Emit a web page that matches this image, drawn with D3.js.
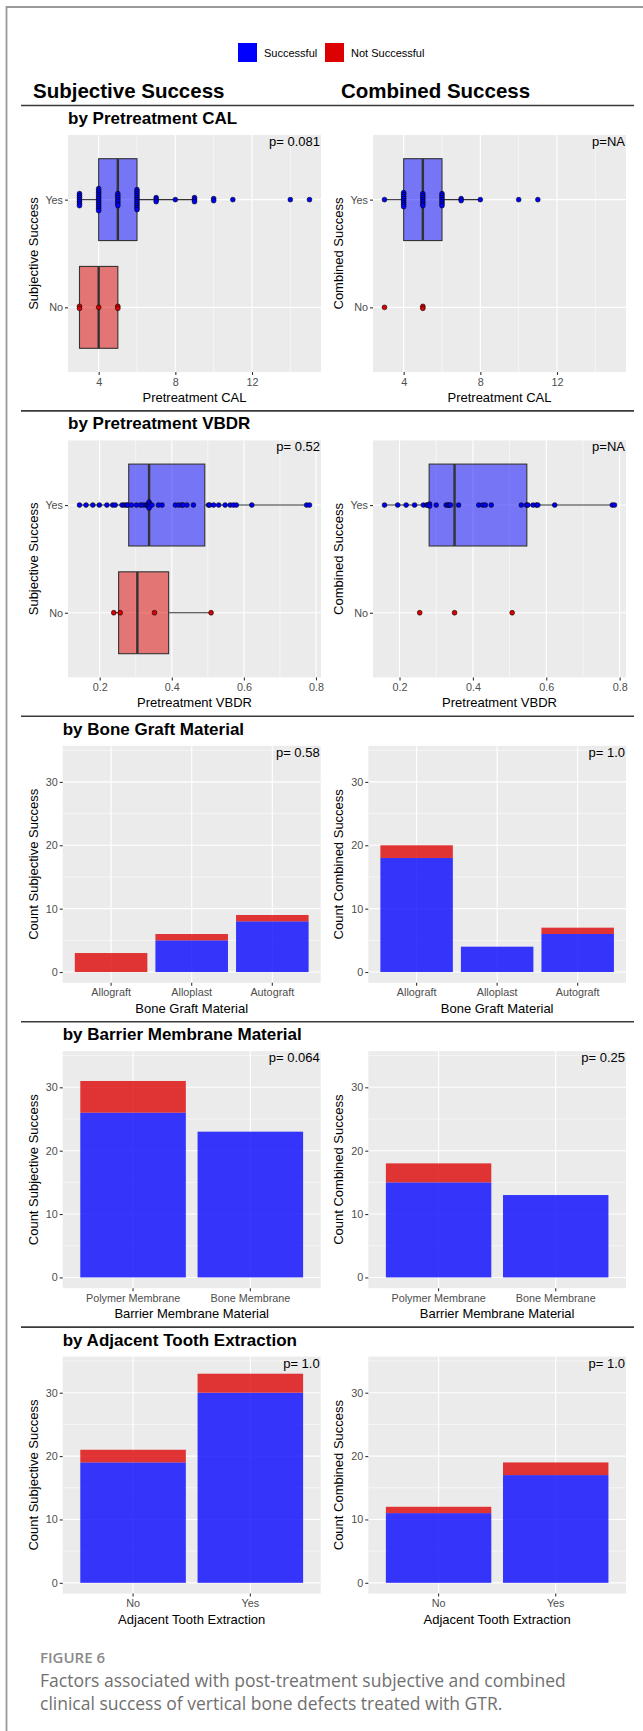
<!DOCTYPE html>
<meta charset="utf-8" />
<title>Figure 6</title>
<script src="https://cdn.jsdelivr.net/npm/d3@7"></script>

<style>
  body {
    margin: 0;
    padding: 0;
    background: #fff;
    font-family: "Liberation Sans", Arial, sans-serif;
  }
</style>

<body>
  <div id="figure"></div>
</body>

<script>
  // ---- data ----
  const groups = ["Yes", "No"];
  const legendLabels = ["Successful", "Not Successful"];
  const columnTitles = ["Subjective Success", "Combined Success"];
  const rowTitles = ["by Pretreatment CAL", "by Pretreatment VBDR", "by Bone Graft Material",
    "by Barrier Membrane Material", "by Adjacent Tooth Extraction"];
  const xTitles = ["Pretreatment CAL", "Pretreatment VBDR", "Bone Graft Material",
    "Barrier Membrane Material", "Adjacent Tooth Extraction"];
  const pValues = [["p= 0.081", "p=NA"], ["p= 0.52", "p=NA"], ["p= 0.58", "p= 1.0"],
    ["p= 0.064", "p= 0.25"], ["p= 1.0", "p= 1.0"]];

  // pretreatment CAL
  const calTicks = [4, 8, 12];
  const calLimits = [3, 15];
  const calSubjYes = [3, 3, 3, 3, 3, 3, 3, 4, 4, 4, 4, 4, 4, 4, 4, 4, 4, 4, 4, 5, 5, 5, 5, 5, 5, 5,
    6, 6, 6, 6, 6, 6, 6, 6, 6, 6, 6, 7, 7, 7, 8, 9, 9, 9, 10, 10, 11, 14, 15];
  const calSubjNo = [3, 3, 4, 5, 5];
  const calCombYes = [3, 4, 4, 4, 4, 4, 4, 4, 4, 5, 5, 5, 5, 5, 5, 5, 6, 6, 6, 6, 6, 6, 6, 7, 7, 8, 10, 11];
  const calCombNo = [3, 5, 5];

  // pretreatment VBDR
  const vbdrTicks = [0.2, 0.4, 0.6, 0.8];
  const vbdrSubjYes = [0.144, 0.162, 0.181, 0.199, 0.220, 0.236, 0.243, 0.262, 0.268, 0.274, 0.278,
    0.288, 0.302, 0.313, 0.320, 0.328, 0.331, 0.335, 0.337, 0.337, 0.337, 0.337, 0.345, 0.363,
    0.373, 0.410, 0.419, 0.428, 0.431, 0.442, 0.460, 0.502, 0.505, 0.516, 0.530, 0.548, 0.562,
    0.571, 0.579, 0.622, 0.774, 0.782];
  const vbdrSubjNo = [0.239, 0.257, 0.352, 0.509];
  const vbdrCombYes = [0.159, 0.195, 0.218, 0.241, 0.265, 0.274, 0.277, 0.282, 0.282, 0.300, 0.327,
    0.332, 0.335, 0.339, 0.361, 0.416, 0.427, 0.434, 0.450, 0.532, 0.546, 0.550, 0.564, 0.573,
    0.577, 0.623, 0.780, 0.786];
  const vbdrCombNo = [0.255, 0.350, 0.507];

  // counts
  const countTicks = [0, 10, 20, 30];
  const countMax = 34;
  const graftCats = ["Allograft", "Alloplast", "Autograft"];
  const graftSubjSuccess = [0, 5, 8];
  const graftSubjFail = [3, 1, 1];
  const graftCombSuccess = [18, 4, 6];
  const graftCombFail = [2, 0, 1];
  const membraneCats = ["Polymer Membrane", "Bone Membrane"];
  const membraneSubjSuccess = [26, 23];
  const membraneSubjFail = [5, 0];
  const membraneCombSuccess = [15, 13];
  const membraneCombFail = [3, 0];
  const extractionCats = ["No", "Yes"];
  const extractionSubjSuccess = [19, 30];
  const extractionSubjFail = [2, 3];
  const extractionCombSuccess = [11, 17];
  const extractionCombFail = [1, 2];

  // ---- layout ----
  const W = 643, H = 1731;
  const blue = "#0000FF", red = "#DD0000";
  const rowTop = i => 135 + i * 305.4;
  const panelH = 237;
  const boxCols = [[68, 321], [373, 626]];
  const barCols = [[62.7, 320.7], [368.3, 626]];
  const yTitleX = [33, 338];
  const font = "'Liberation Sans', Arial, sans-serif";

  const svg = d3.select("#figure").append("svg")
    .attr("width", W).attr("height", H)
    .style("font-family", font);

  // outer frame
  svg.append("path")
    .attr("d", "M6.5," + H + "V7H" + W)
    .attr("fill", "none").attr("stroke", "#9a9a9a").attr("stroke-width", 1.8);

  // legend
  const legend = svg.append("g");
  [[238, blue], [325, red]].forEach(function (d, i) {
    legend.append("rect").attr("x", d[0]).attr("y", 43).attr("width", 19).attr("height", 19)
      .attr("fill", d[1]);
    legend.append("text").attr("x", d[0] + 26).attr("y", 56.5)
      .attr("font-size", 11).text(legendLabels[i]);
  });

  // column titles
  [33, 341].forEach(function (x, i) {
    svg.append("text").attr("x", x).attr("y", 98)
      .attr("font-size", 20.5).attr("font-weight", "bold").text(columnTitles[i]);
  });

  // separators + row titles
  rowTitles.forEach(function (t, i) {
    svg.append("line").attr("x1", 21).attr("x2", 634)
      .attr("y1", rowTop(i) - 29.5).attr("y2", rowTop(i) - 29.5)
      .attr("stroke", "#3a3a3a").attr("stroke-width", 1.6);
    svg.append("text").attr("x", i < 2 ? boxCols[0][0] : barCols[0][0]).attr("y", rowTop(i) - 11)
      .attr("font-size", 17).attr("font-weight", "bold").text(t);
  });

  function expand(lo, hi) {
    const d = (hi - lo) * 0.05;
    return [lo - d, hi + d];
  }

  function minorTicks(ticks, domain) {
    const step = ticks[1] - ticks[0];
    const out = [];
    for (let v = ticks[0] - step / 2; v <= domain[1]; v += step) {
      if (v >= domain[0]) out.push(v);
    }
    return out;
  }

  function styleAxis(ax) {
    ax.select(".domain").remove();
    ax.selectAll(".tick line").attr("stroke", "#333").attr("stroke-width", 1.1);
    ax.selectAll(".tick text").attr("fill", "#4D4D4D").attr("font-size", 10.8)
      .attr("font-family", font);
  }

  function frameText(g, col, row, x0, x1, yLabel) {
    const top = rowTop(row), bottom = top + panelH;
    // p value
    g.append("text").attr("x", x1 - 1).attr("y", top + 11).attr("text-anchor", "end")
      .attr("font-size", 13).text(pValues[row][col]);
    // axis titles
    g.append("text").attr("x", (x0 + x1) / 2).attr("y", bottom + 30).attr("text-anchor", "middle")
      .attr("font-size", 13).text(xTitles[row]);
    g.append("text")
      .attr("transform", "translate(" + yTitleX[col] + "," + (top + panelH / 2) + ") rotate(-90)")
      .attr("text-anchor", "middle").attr("dy", "0.35em")
      .attr("font-size", 13).text(yLabel);
  }

  function boxPanel(col, row, o) {
    const [x0, x1] = boxCols[col];
    const top = rowTop(row), bottom = top + panelH;
    const x = d3.scaleLinear().domain(expand(o.limits[0], o.limits[1])).range([x0, x1]);
    const y = d3.scalePoint().domain(groups).range([top, bottom]).padding(0.6);
    const g = svg.append("g");

    g.append("rect").attr("x", x0).attr("y", top).attr("width", x1 - x0).attr("height", panelH)
      .attr("fill", "#EBEBEB");
    g.selectAll(null).data(minorTicks(o.ticks, x.domain())).join("line")
      .attr("x1", d => x(d)).attr("x2", d => x(d)).attr("y1", top).attr("y2", bottom)
      .attr("stroke", "#fff").attr("stroke-width", 0.55);
    g.selectAll(null).data(o.ticks).join("line")
      .attr("x1", d => x(d)).attr("x2", d => x(d)).attr("y1", top).attr("y2", bottom)
      .attr("stroke", "#fff").attr("stroke-width", 1.1);
    g.selectAll(null).data(groups).join("line")
      .attr("x1", x0).attr("x2", x1).attr("y1", d => y(d)).attr("y2", d => y(d))
      .attr("stroke", "#fff").attr("stroke-width", 1.1);

    const series = [
      { key: "Yes", values: o.yes, color: blue, box: true },
      { key: "No", values: o.no, color: red, box: o.noBox }
    ];
    const boxH = y.step() * 0.76;

    series.forEach(function (s) {
      const cy = y(s.key);
      if (s.box) {
        const v = s.values.slice().sort(d3.ascending);
        const q1 = d3.quantileSorted(v, 0.25), med = d3.quantileSorted(v, 0.5), q3 = d3.quantileSorted(v, 0.75);
        const iqr = q3 - q1;
        const lo = d3.min(v.filter(d => d >= q1 - 1.5 * iqr));
        const hi = d3.max(v.filter(d => d <= q3 + 1.5 * iqr));
        g.selectAll(null).data([[lo, q1], [q3, hi]].filter(d => d[1] > d[0])).join("line")
          .attr("x1", d => x(d[0])).attr("x2", d => x(d[1])).attr("y1", cy).attr("y2", cy)
          .attr("stroke", "#333").attr("stroke-width", 1.1);
        g.append("rect").attr("x", x(q1)).attr("width", x(q3) - x(q1))
          .attr("y", cy - boxH / 2).attr("height", boxH)
          .attr("fill", s.color).attr("fill-opacity", 0.5)
          .attr("stroke", "#333").attr("stroke-width", 1.1);
        g.append("line").attr("x1", x(med)).attr("x2", x(med))
          .attr("y1", cy - boxH / 2).attr("y2", cy + boxH / 2)
          .attr("stroke", "#333").attr("stroke-width", 2.4);
      }
      // dots stacked where values coincide
      const dots = [];
      d3.group(s.values, d => d).forEach(function (arr, val) {
        arr.forEach((d, i) => dots.push({ v: val, off: (i - (arr.length - 1) / 2) * 2 }));
      });
      g.selectAll(null).data(dots).join("circle")
        .attr("cx", d => x(d.v)).attr("cy", d => cy + d.off).attr("r", 2.4)
        .attr("fill", s.color).attr("stroke", "#000").attr("stroke-width", 0.6);
    });

    const ax = g.append("g").attr("transform", "translate(0," + bottom + ")")
      .call(d3.axisBottom(x).tickValues(o.ticks).tickFormat(o.fmt).tickSize(3).tickPadding(3));
    styleAxis(ax);
    const ay = g.append("g").attr("transform", "translate(" + x0 + ",0)")
      .call(d3.axisLeft(y).tickSize(3).tickPadding(2));
    styleAxis(ay);

    frameText(g, col, row, x0, x1, columnTitles[col]);
  }

  function barPanel(col, row, o) {
    const [x0, x1] = barCols[col];
    const top = rowTop(row), bottom = top + panelH;
    const x = d3.scaleBand().domain(o.cats).range([x0, x1]).paddingInner(0.1).paddingOuter(0.15);
    const y = d3.scaleLinear().domain(expand(0, countMax)).range([bottom, top]);
    const g = svg.append("g");

    g.append("rect").attr("x", x0).attr("y", top).attr("width", x1 - x0).attr("height", panelH)
      .attr("fill", "#EBEBEB");
    g.selectAll(null).data(minorTicks(countTicks, y.domain())).join("line")
      .attr("x1", x0).attr("x2", x1).attr("y1", d => y(d)).attr("y2", d => y(d))
      .attr("stroke", "#fff").attr("stroke-width", 0.55);
    g.selectAll(null).data(countTicks).join("line")
      .attr("x1", x0).attr("x2", x1).attr("y1", d => y(d)).attr("y2", d => y(d))
      .attr("stroke", "#fff").attr("stroke-width", 1.1);
    g.selectAll(null).data(o.cats).join("line")
      .attr("x1", d => x(d) + x.bandwidth() / 2).attr("x2", d => x(d) + x.bandwidth() / 2)
      .attr("y1", top).attr("y2", bottom)
      .attr("stroke", "#fff").attr("stroke-width", 1.1);

    const rows = o.cats.map((c, i) => ({ c: c, s: o.success[i], f: o.fail[i] }));
    g.selectAll(null).data(rows.filter(d => d.s > 0)).join("rect")
      .attr("x", d => x(d.c)).attr("width", x.bandwidth())
      .attr("y", d => y(d.s)).attr("height", d => y(0) - y(d.s))
      .attr("fill", blue).attr("fill-opacity", 0.78);
    g.selectAll(null).data(rows.filter(d => d.f > 0)).join("rect")
      .attr("x", d => x(d.c)).attr("width", x.bandwidth())
      .attr("y", d => y(d.s + d.f)).attr("height", d => y(d.s) - y(d.s + d.f))
      .attr("fill", red).attr("fill-opacity", 0.78);

    const ax = g.append("g").attr("transform", "translate(0," + bottom + ")")
      .call(d3.axisBottom(x).tickSize(3).tickPadding(3));
    styleAxis(ax);
    const ay = g.append("g").attr("transform", "translate(" + x0 + ",0)")
      .call(d3.axisLeft(y).tickValues(countTicks).tickSize(3).tickPadding(2));
    styleAxis(ay);

    frameText(g, col, row, x0, x1, "Count " + columnTitles[col]);
  }

  const fmt1 = d3.format(".1f");
  boxPanel(0, 0, { limits: calLimits, ticks: calTicks, fmt: String, yes: calSubjYes, no: calSubjNo, noBox: true });
  boxPanel(1, 0, { limits: calLimits, ticks: calTicks, fmt: String, yes: calCombYes, no: calCombNo, noBox: false });
  boxPanel(0, 1, {
    limits: d3.extent(vbdrSubjYes.concat(vbdrSubjNo)), ticks: vbdrTicks, fmt: fmt1,
    yes: vbdrSubjYes, no: vbdrSubjNo, noBox: true
  });
  boxPanel(1, 1, {
    limits: d3.extent(vbdrCombYes.concat(vbdrCombNo)), ticks: vbdrTicks, fmt: fmt1,
    yes: vbdrCombYes, no: vbdrCombNo, noBox: false
  });

  barPanel(0, 2, { cats: graftCats, success: graftSubjSuccess, fail: graftSubjFail });
  barPanel(1, 2, { cats: graftCats, success: graftCombSuccess, fail: graftCombFail });
  barPanel(0, 3, { cats: membraneCats, success: membraneSubjSuccess, fail: membraneSubjFail });
  barPanel(1, 3, { cats: membraneCats, success: membraneCombSuccess, fail: membraneCombFail });
  barPanel(0, 4, { cats: extractionCats, success: extractionSubjSuccess, fail: extractionSubjFail });
  barPanel(1, 4, { cats: extractionCats, success: extractionCombSuccess, fail: extractionCombFail });

  // caption
  const cap = svg.append("g").style("font-family", "'Open Sans', sans-serif");
  cap.append("text").attr("x", 40).attr("y", 1662.7).attr("font-size", 15)
    .attr("font-weight", 600).attr("fill", "#8a8a8a").text("FIGURE 6");
  ["Factors associated with post-treatment subjective and combined",
    "clinical success of vertical bone defects treated with GTR."].forEach(function (t, i) {
      cap.append("text").attr("x", 40).attr("y", 1686.7 + i * 23.4).attr("font-size", 17.5)
        .attr("fill", "#707070").text(t);
    });
</script>
